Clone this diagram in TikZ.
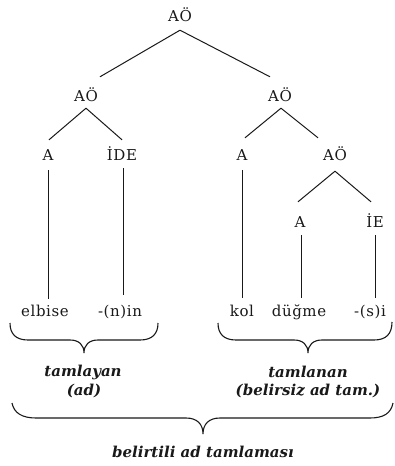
\documentclass[tikz,border=0pt]{standalone}
\usepackage{fontspec}
\setmainfont[LetterSpace=4,BoldItalicFeatures={LetterSpace=0}]{DejaVu Serif}
\usetikzlibrary{calc}
\begin{document}
\begin{tikzpicture}[x=1pt,y=-1pt,
  lbl/.style={font=\fontsize{15}{17}\selectfont, text=black!90, inner sep=0pt, text height=10pt, text depth=0pt},
  word/.style={font=\fontsize{15}{17}\selectfont, text=black!90, inner sep=0pt, anchor=base, text height=10pt, text depth=3pt},
  captext/.style={font=\fontsize{15}{17}\selectfont\bfseries\itshape, text=black!90, inner sep=0pt},
  treeline/.style={draw=black!90, line width=1pt},
  braceline/.style={draw=black!90, line width=1.1pt}]
\useasboundingbox (0,0) rectangle (395,466);
% tree labels
\node[lbl] (r) at (180,16) {AÖ};
\node[lbl] (l) at (86,96) {AÖ};
\node[lbl] (rr) at (280,96) {AÖ};
\node[lbl] (la) at (48,155) {A};
\node[lbl] (lide) at (122,155) {İDE};
\node[lbl] (ra) at (242,155) {A};
\node[lbl] (rao) at (335,155) {AÖ};
\node[lbl] (raa) at (300,222) {A};
\node[lbl] (rie) at (375,222) {İE};
% words
\node[word] (w1) at (45,316) {elbise};
\node[word] (w2) at (120,316) {-(n)in};
\node[word] (w3) at (242,316) {kol};
\node[word] (w4) at (299,316) {düğme};
\node[word] (w5) at (370,316) {-(s)i};
% branches
\draw[treeline] ($(r.south)+(0,9)$) -- ($(l.north)+(14,-14)$);
\draw[treeline] ($(r.south)+(0,9)$) -- ($(rr.north)+(-10,-14)$);
\draw[treeline] ($(l.south)+(0,7)$) -- ($(la.north)+(1,-10)$);
\draw[treeline] ($(l.south)+(0,7)$) -- ($(lide.north)+(0,-10)$);
\draw[treeline] ($(rr.south)+(1,7)$) -- ($(ra.north)+(3,-12)$);
\draw[treeline] ($(rr.south)+(1,7)$) -- ($(rao.north)+(-17,-12)$);
\draw[treeline] ($(rao.south)+(0,11)$) -- ($(raa.north)+(-2,-15)$);
\draw[treeline] ($(rao.south)+(0,11)$) -- ($(rie.north)+(-4,-15)$);
% verticals
\draw[treeline] ($(la.south)+(0,10)$) -- ($(la.south |- w1.north)+(0,-7)$);
\draw[treeline] ($(lide.south)+(1,8)$) -- ($(lide.south |- w2.north)+(1,-11)$);
\draw[treeline] ($(ra.south)+(0,10)$) -- ($(ra.south |- w3.north)+(0,-8)$);
\draw[treeline] ($(raa.south)+(1,8)$) -- ($(raa.south |- w4.north)+(1,-8)$);
\draw[treeline] ($(rie.south)+(0,8)$) -- ($(rie.south |- w5.north)+(0,-8)$);
% braces
\draw[braceline] (10,323) .. controls (10,334) and (16,340) .. (28,340) -- (70,340)
  .. controls (79,340) and (84,345) .. (84,353) .. controls (84,345) and (89,340) .. (98,340)
  -- (140,340) .. controls (152,340) and (158,334) .. (158,323);
\draw[braceline] (218,323) .. controls (218,334) and (224,340) .. (236,340) -- (294,340)
  .. controls (303,340) and (308,345) .. (308,353) .. controls (308,345) and (313,340) .. (322,340)
  -- (374,340) .. controls (386,340) and (392,334) .. (392,322);
\draw[braceline] (12,403) .. controls (14,413) and (22,418) .. (36,418) -- (186,418)
  .. controls (197,418) and (203,424) .. (203,434) .. controls (203,424) and (209,418) .. (220,418)
  -- (370,418) .. controls (384,418) and (391,413) .. (393,403);
% captions
\node[captext] (c1) at (83,372) {tamlayan};
\node[captext] (c1b) at (84,391) {(ad)};
\node[captext] (c2) at (308,372) {tamlanan};
\node[captext] (c2b) at (308,391) {(belirsiz ad tam.)};
\node[captext] (c3) at (203,452) {belirtili ad tamlaması};
\end{tikzpicture}
\end{document}
